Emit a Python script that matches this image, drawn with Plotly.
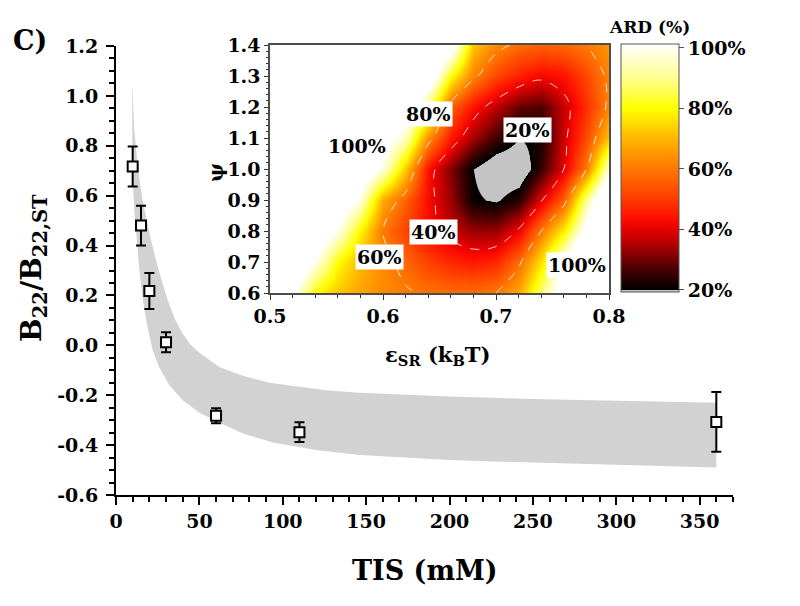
import plotly.graph_objects as go

# ---------------- main panel data ----------------
tis_mM = [10, 15, 20, 30, 60, 110, 360]
b22_ratio = [0.717, 0.480, 0.218, 0.012, -0.282, -0.348, -0.307]
b22_err = [0.080, 0.080, 0.072, 0.040, 0.030, 0.040, 0.120]

band_upper_x = [9.8, 11, 13.3, 16, 20.4, 24, 27, 30.6, 35, 39.6, 45, 50, 62, 75, 92, 126, 146, 200, 250, 300, 360]
band_upper_y = [1.03, 0.86, 0.70, 0.58, 0.44, 0.34, 0.27, 0.19, 0.11, 0.05, 0.0, -0.03, -0.087, -0.12, -0.15, -0.18, -0.19, -0.205, -0.215, -0.222, -0.23]
band_lower_x = [9.6, 9.7, 10.0, 11, 12.4, 14, 16.4, 19, 22, 26, 32, 40, 50, 62, 77, 94, 120, 146, 200, 250, 300, 360]
band_lower_y = [1.03, 0.85, 0.66, 0.54, 0.43, 0.30, 0.17, 0.07, -0.02, -0.09, -0.16, -0.22, -0.27, -0.31, -0.355, -0.39, -0.42, -0.44, -0.46, -0.47, -0.48, -0.49]

y_tickvals = [-0.6, -0.4, -0.2, 0.0, 0.2, 0.4, 0.6, 0.8, 1.0, 1.2]
y_ticktext = ["-0.6", "-0.4", "-0.2", "0.0", "0.2", "0.4", "0.6", "0.8", "1.0", "1.2"]
x_tickvals = [0, 50, 100, 150, 200, 250, 300, 350]

# ---------------- inset data (ARD %) ----------------
eps_sr = [0.50, 0.52, 0.54, 0.56, 0.58, 0.60, 0.62, 0.64, 0.66, 0.68, 0.70, 0.72, 0.74, 0.76, 0.78, 0.80]
psi = [0.6, 0.7, 0.8, 0.9, 1.0, 1.1, 1.2, 1.3, 1.4]
ard_y060 = [130, 102, 80, 72, 67, 63, 61, 59, 58, 58, 60, 68, 88, 110, 130, 150]
ard_y070 = [140, 115, 100, 80, 70, 63, 57, 51, 47, 45, 47, 58, 76, 102, 125, 145]
ard_y080 = [150, 128, 112, 99, 79, 60, 51, 43, 37, 33, 33, 41, 60, 78, 105, 130]
ard_y090 = [160, 140, 125, 112, 98, 68, 56, 43, 33, 21, 19, 24, 39, 56, 90, 120]
ard_y100 = [170, 152, 138, 125, 112, 98, 72, 44, 31, 20, 14, 14, 25, 40, 60, 97]
ard_y110 = [175, 160, 145, 130, 116, 108, 94, 64, 45, 34, 26, 20, 22, 38, 52, 72]
ard_y120 = [185, 172, 158, 145, 132, 120, 108, 88, 56, 44, 36, 29, 27, 37, 48, 62]
ard_y130 = [195, 185, 172, 160, 148, 136, 124, 112, 80, 62, 52, 46, 42, 44, 52, 62]
ard_y140 = [205, 195, 185, 175, 162, 150, 138, 125, 108, 72, 63, 58, 56, 57, 60, 65]
ard = [ard_y060, ard_y070, ard_y080, ard_y090, ard_y100, ard_y110, ard_y120, ard_y130, ard_y140]

contour_levels = [40, 60]
cbar_tickvals = [20, 40, 60, 80, 100]
cbar_ticktext = ["20%", "40%", "60%", "80%", "100%"]

inset_labels = ["80%", "100%", "20%", "40%", "60%", "100%"]
inset_label_x = [0.6407, 0.5767, 0.7277, 0.6449, 0.5973, 0.7720]
inset_label_y = [1.177, 1.074, 1.126, 0.798, 0.715, 0.690]
inset_label_box = [True, False, True, True, True, True]

# ---------------- styling ----------------
W, H = 800, 606
FONT = "DejaVu Serif"
ZMIN, ZMAX = 19.3, 101.3


def t(z):
    return (z - ZMIN) / (ZMAX - ZMIN)


colorscale = [
    [0.0, "#c4c4c4"], [t(19.8), "#c4c4c4"], [t(20.0), "#000000"],
    [t(27), "#4a0000"], [t(33), "#990000"], [t(40), "#e80000"],
    [t(44), "#ff1000"], [t(50), "#ff3a00"], [t(58), "#ff6c00"],
    [t(66), "#ff9c00"], [t(73), "#ffcc00"], [t(80), "#ffff00"],
    [t(90), "#ffff90"], [1.0, "#ffffff"],
]


def px(x):
    return x / W


def py(y):
    return 1 - y / H


fig = go.Figure()

fig.add_trace(go.Scatter(
    x=band_upper_x + band_lower_x[::-1],
    y=band_upper_y + band_lower_y[::-1],
    fill="toself", fillcolor="rgb(210,210,210)", mode="lines",
    line=dict(width=0, color="rgb(210,210,210)"), hoverinfo="skip",
    xaxis="x", yaxis="y",
))

fig.add_trace(go.Scatter(
    x=tis_mM, y=b22_ratio, mode="markers",
    marker=dict(symbol="square", size=10, color="white",
                line=dict(color="black", width=2)),
    error_y=dict(type="data", array=b22_err, color="black", thickness=2, width=5),
    xaxis="x", yaxis="y",
))

fig.add_trace(go.Heatmap(
    x=eps_sr, y=psi, z=ard, zsmooth="best", zmin=ZMIN, zmax=ZMAX, zauto=False,
    colorscale=colorscale, xaxis="x2", yaxis="y2",
    colorbar=dict(
        x=px(621), xanchor="left", y=py(168), yanchor="middle",
        len=248 / H, lenmode="fraction", thickness=58, thicknessmode="pixels",
        xpad=0, ypad=0, outlinewidth=1, outlinecolor="#555555",
        tickvals=cbar_tickvals, ticktext=cbar_ticktext, ticks="outside",
        ticklen=5, tickcolor="#555555", tickwidth=1,
        tickfont=dict(family=FONT, size=19, color="black", weight="bold"),
    ),
))

fig.add_trace(go.Contour(
    x=eps_sr, y=psi, z=ard, showscale=False, hoverinfo="skip",
    contours=dict(coloring="none", start=contour_levels[0],
                  end=contour_levels[-1], size=contour_levels[1] - contour_levels[0]),
    line=dict(color="rgba(255,255,255,0.8)", width=1, dash="dash", smoothing=1.0),
    xaxis="x2", yaxis="y2",
))

tickfont_main = dict(family=FONT, size=19, color="black", weight="bold")

annotations = []
for txt, lx, ly, box in zip(inset_labels, inset_label_x, inset_label_y, inset_label_box):
    annotations.append(dict(
        x=lx, y=ly, xref="x2", yref="y2", text=txt, showarrow=False,
        xanchor="center", yanchor="middle",
        font=dict(family=FONT, size=19, color="black", weight="bold"),
        bgcolor="white" if box else "rgba(0,0,0,0)", borderpad=1,
    ))


def paper_note(x, y, text, size, angle=0):
    return dict(x=px(x), y=py(y), xref="paper", yref="paper", text=text,
                textangle=angle, showarrow=False, xanchor="center", yanchor="middle",
                font=dict(family=FONT, size=size, color="black", weight="bold"))


annotations += [
    paper_note(33, 268, "B<sub>22</sub>/B<sub>22,ST</sub>", 28, -90),
    paper_note(425, 570, "TIS (mM)", 27),
    paper_note(437, 355, "ε<sub>SR</sub> (k<sub>B</sub>T)", 21),
    paper_note(216, 173, "ψ", 20, -90),
    paper_note(30, 40, "C)", 27),
    paper_note(649, 27, "ARD (%)", 17),
]

fig.update_layout(
    template="none",
    width=W, height=H, margin=dict(l=0, r=0, t=0, b=0, pad=0, autoexpand=False),
    paper_bgcolor="white", plot_bgcolor="white", showlegend=False,
    xaxis=dict(
        domain=[px(116), px(733)], range=[0, 370], anchor="y", automargin=False,
        showline=True, linecolor="black", linewidth=2, showgrid=False, zeroline=False,
        tickmode="array", tickvals=x_tickvals, ticks="outside", ticklen=8, tickwidth=2,
        tickcolor="black", tickfont=tickfont_main,
        minor=dict(tickmode="linear", tick0=0, dtick=10, ticks="outside", ticklen=5,
                   tickwidth=1.5, tickcolor="black", showgrid=False),
    ),
    yaxis=dict(
        domain=[py(495), py(46)], range=[-0.6, 1.2], anchor="x", automargin=False,
        showline=True, linecolor="black", linewidth=2, showgrid=False, zeroline=False,
        tickmode="array", tickvals=y_tickvals, ticktext=y_ticktext, ticks="outside",
        ticklen=8, tickwidth=2, tickcolor="black", tickfont=tickfont_main,
        ticklabelstandoff=4,
        minor=dict(tickmode="linear", tick0=0, dtick=0.05, ticks="outside", ticklen=5,
                   tickwidth=1.5, tickcolor="black", showgrid=False),
    ),
    xaxis2=dict(
        domain=[px(270), px(609)], range=[0.5, 0.8], anchor="y2", automargin=False,
        showline=True, mirror=True, linecolor="#4d4d4d", linewidth=1.5,
        showgrid=False, zeroline=False, dtick=0.1, tick0=0.5, tickformat=".1f",
        ticks="outside", ticklen=5, tickwidth=1.2, tickcolor="#333333",
        tickfont=tickfont_main,
        minor=dict(dtick=0.02, tick0=0.5, ticks="outside", ticklen=3, tickwidth=1,
                   tickcolor="#333333", showgrid=False),
    ),
    yaxis2=dict(
        domain=[py(293), py(45)], range=[0.6, 1.4], anchor="x2", automargin=False,
        showline=True, mirror=True, linecolor="#4d4d4d", linewidth=1.5,
        showgrid=False, zeroline=False, dtick=0.1, tick0=0.6, tickformat=".1f",
        ticks="outside", ticklen=4, tickwidth=1.2, tickcolor="#333333",
        tickfont=tickfont_main, ticklabelstandoff=0,
        minor=dict(dtick=0.02, tick0=0.6, ticks="outside", ticklen=2, tickwidth=1,
                   tickcolor="#333333", showgrid=False),
    ),
    annotations=annotations,
)

fig.write_html(
    "out.html",
    config={"displayModeBar": False},
    post_script="document.body.style.margin='0px'; document.body.style.padding='0px';",
)
